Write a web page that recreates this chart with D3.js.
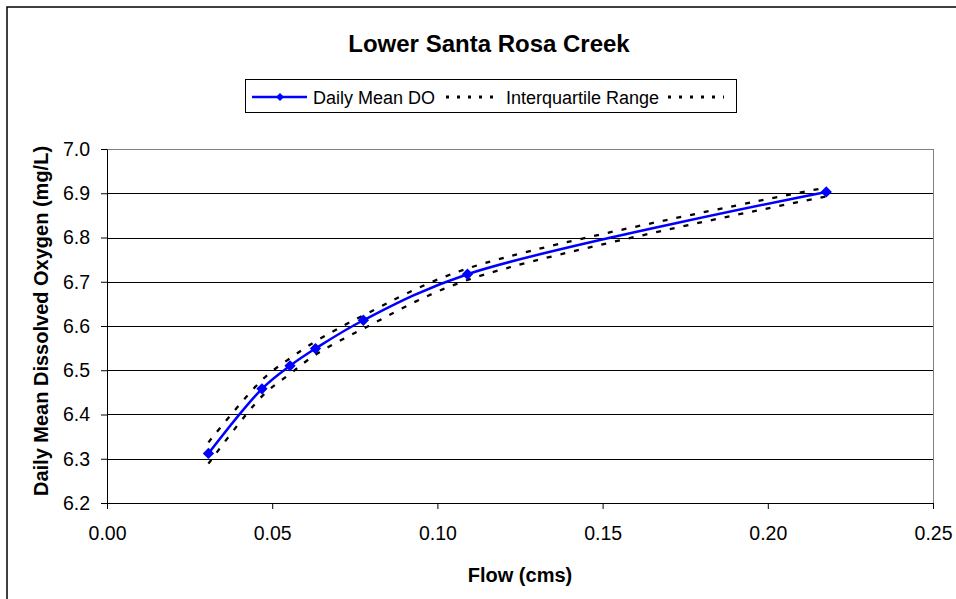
<!DOCTYPE html>
<html>
<head>
<meta charset="utf-8">
<script src="https://cdn.jsdelivr.net/npm/d3@7"></script>
<style>
  body { margin: 0; background: #fff; }
  text { font-family: "Liberation Sans", Arial, sans-serif; fill: #000; }
</style>
</head>
<body>
<div class="chart"></div>
<script>
// chart values
var flow = [0.0307, 0.0469, 0.0554, 0.0631, 0.0776, 0.1091, 0.2177];
var meanDO = [6.312, 6.458, 6.510, 6.549, 6.613, 6.717, 6.903];
var upperDO = [6.337, 6.478, 6.527, 6.565, 6.624, 6.730, 6.913];
var lowerDO = [6.289, 6.441, 6.492, 6.535, 6.594, 6.704, 6.893];
var xTicks = [0, 0.05, 0.10, 0.15, 0.20, 0.25];
var yTicks = [6.2, 6.3, 6.4, 6.5, 6.6, 6.7, 6.8, 6.9, 7.0];
var legendLabels = ["Daily Mean DO", "Interquartile Range"];

// svg params
var svgWidth = 956;
var svgHeight = 599;
var margin = { top: 149, right: 23, bottom: 96, left: 107 };
var width = svgWidth - margin.left - margin.right;
var height = svgHeight - margin.top - margin.bottom;

var svg = d3.select(".chart")
  .append("svg")
  .attr("width", svgWidth)
  .attr("height", svgHeight);

// outer frame (right and bottom edges fall outside the picture)
svg.append("rect")
  .attr("x", 7).attr("y", 7)
  .attr("width", 1000).attr("height", 1000)
  .attr("fill", "none")
  .attr("stroke", "#000")
  .attr("stroke-width", 1.5);

var chartGroup = svg.append("g")
  .attr("transform", `translate(${margin.left}, ${margin.top})`);

// scales
var xScale = d3.scaleLinear().domain([0, 0.25]).range([0, width]);
var yScale = d3.scaleLinear().domain([6.2, 7.0]).range([height, 0]);

// gridlines
chartGroup.selectAll(".grid")
  .data(yTicks.slice(1))
  .enter()
  .append("line")
  .attr("x1", 0)
  .attr("x2", width)
  .attr("y1", d => Math.round(yScale(d)) + 0.5)
  .attr("y2", d => Math.round(yScale(d)) + 0.5)
  .attr("stroke", d => d === 7.0 ? "#808080" : "#000")
  .attr("stroke-width", 1);

// right edge of plot area
chartGroup.append("line")
  .attr("x1", width + 0.5).attr("x2", width + 0.5)
  .attr("y1", 0).attr("y2", height)
  .attr("stroke", "#808080");

// axes
var bottomAxis = d3.axisBottom(xScale)
  .tickValues(xTicks)
  .tickFormat(d3.format(".2f"))
  .tickSizeInner(6)
  .tickSizeOuter(0)
  .tickPadding(17);

var leftAxis = d3.axisLeft(yScale)
  .tickValues(yTicks)
  .tickFormat(d3.format(".1f"))
  .tickSizeInner(6)
  .tickSizeOuter(0)
  .tickPadding(11);

var xAxisG = chartGroup.append("g")
  .attr("transform", `translate(0, ${height})`)
  .call(bottomAxis);

var yAxisG = chartGroup.append("g")
  .call(leftAxis);

[xAxisG, yAxisG].forEach(function(g) {
  g.selectAll("text")
    .attr("font-size", "19.5px")
    .attr("font-family", "Liberation Sans, Arial, sans-serif")
    .attr("fill", "#000");
  g.selectAll("line").attr("stroke", "#000");
  g.select(".domain").attr("stroke", "#000");
});

// lines
var makeLine = function(vals) {
  return d3.line()
    .x((d, i) => xScale(flow[i]))
    .y(d => yScale(d))
    .curve(d3.curveCatmullRom.alpha(0.5))(vals);
};

[upperDO, lowerDO].forEach(function(vals) {
  chartGroup.append("path")
    .attr("d", makeLine(vals))
    .attr("fill", "none")
    .attr("stroke", "#000")
    .attr("stroke-width", 2.3)
    .attr("stroke-dasharray", "5,9");
});

chartGroup.append("path")
  .attr("d", makeLine(meanDO))
  .attr("fill", "none")
  .attr("stroke", "#0000FF")
  .attr("stroke-width", 2.5);

// diamond markers
var diamond = d3.symbol().type(d3.symbolSquare).size(64);

chartGroup.selectAll(".marker")
  .data(meanDO)
  .enter()
  .append("path")
  .attr("d", diamond)
  .attr("transform", (d, i) => `translate(${xScale(flow[i])}, ${yScale(d)}) rotate(45)`)
  .attr("fill", "#0000FF");

// title
svg.append("text")
  .attr("x", 489)
  .attr("y", 52)
  .attr("text-anchor", "middle")
  .attr("font-size", "24px")
  .attr("font-weight", "bold")
  .text("Lower Santa Rosa Creek");

// axis labels
svg.append("text")
  .attr("transform", "translate(48, 321) rotate(-90)")
  .attr("text-anchor", "middle")
  .attr("font-size", "20px")
  .attr("font-weight", "bold")
  .text("Daily Mean Dissolved Oxygen (mg/L)");

svg.append("text")
  .attr("x", margin.left + width / 2)
  .attr("y", 582)
  .attr("text-anchor", "middle")
  .attr("font-size", "20px")
  .attr("font-weight", "bold")
  .text("Flow (cms)");

// legend
var legend = svg.append("g");

legend.append("rect")
  .attr("x", 245.5).attr("y", 79.5)
  .attr("width", 491).attr("height", 33)
  .attr("fill", "#fff")
  .attr("stroke", "#000");

legend.append("line")
  .attr("x1", 252).attr("x2", 307)
  .attr("y1", 97).attr("y2", 97)
  .attr("stroke", "#0000FF")
  .attr("stroke-width", 2.5);

legend.append("path")
  .attr("d", d3.symbol().type(d3.symbolSquare).size(32)())
  .attr("transform", "translate(280, 97) rotate(45)")
  .attr("fill", "#0000FF");

legend.append("text")
  .attr("x", 313).attr("y", 104)
  .attr("font-size", "18px")
  .text(legendLabels[0]);

[[446, 501], [668, 724]].forEach(function(seg) {
  legend.append("line")
    .attr("x1", seg[0]).attr("x2", seg[1])
    .attr("y1", 97).attr("y2", 97)
    .attr("stroke", "#000")
    .attr("stroke-width", 3)
    .attr("stroke-dasharray", "3,8");
});

legend.append("text")
  .attr("x", 506).attr("y", 104)
  .attr("font-size", "18px")
  .text(legendLabels[1]);
</script>
</body>
</html>
